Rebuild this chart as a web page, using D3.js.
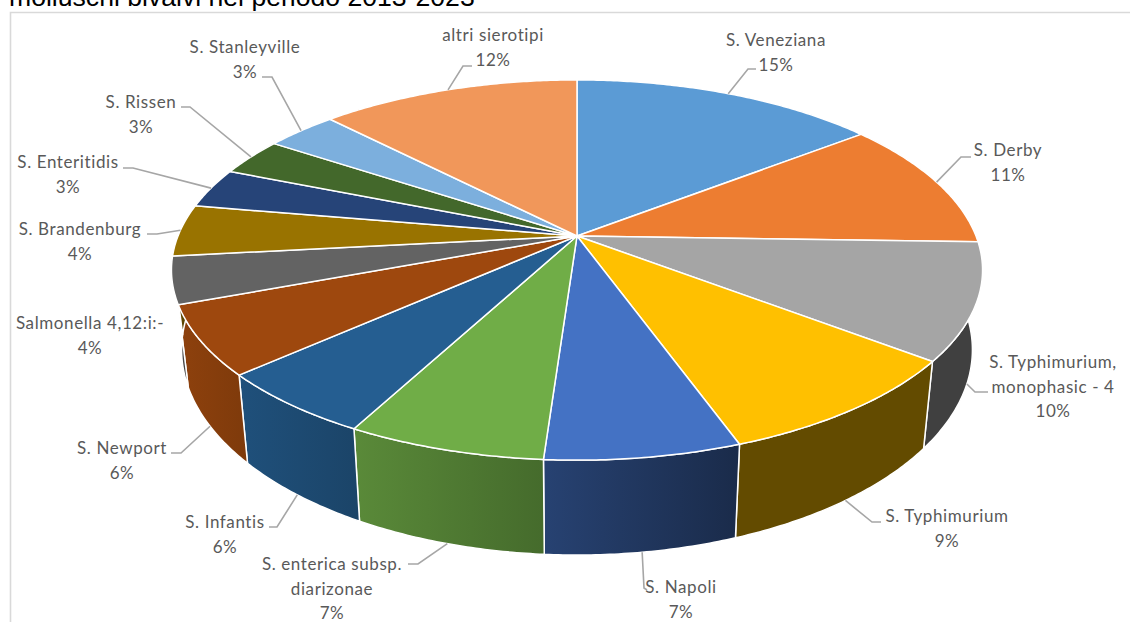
<!DOCTYPE html>
<html><head><meta charset="utf-8">
<script src="https://cdn.jsdelivr.net/npm/d3@7"></script>
<style>html,body{margin:0;padding:0;background:#fff;overflow:hidden}svg{display:block}</style>
</head><body><svg id="c" width="1130" height="622"></svg>
<script>
// ---- data ----
const categories = ["S. Veneziana","S. Derby","S. Typhimurium, monophasic - 4","S. Typhimurium","S. Napoli","S. enterica subsp. diarizonae","S. Infantis","S. Newport","Salmonella 4,12:i:-","S. Brandenburg","S. Enteritidis","S. Rissen","S. Stanleyville","altri sierotipi"];
const values = [14.5,11.0,9.9,9.1,6.6,6.7,5.6,5.9,4.0,4.4,3.4,3.2,3.4,12.3];
const colors = ["#5B9BD5","#ED7D31","#A5A5A5","#FFC000","#4472C4","#70AD47","#255E91","#9E480E","#636363","#997300","#264478","#43682B","#7CAFDD","#F1975A"];
// side-wall shading factors (left edge, right edge of each wall)
const wallLeft  = [.5,.5,.39,.39,.58,.8,.85,.9,.75,.6,.6,.6,.6,.6];
const wallRight = [.5,.5,.39,.39,.38,.62,.72,.8,.7,.6,.6,.6,.6,.6];
// label layout: wrapped lines, centre x, first line y, line gap
const labelLines = [["S. Veneziana"],["S. Derby"],["S. Typhimurium,","monophasic - 4"],["S. Typhimurium"],["S. Napoli"],["S. enterica subsp.","diarizonae"],["S. Infantis"],["S. Newport"],["Salmonella 4,12:i:-"],["S. Brandenburg"],["S. Enteritidis"],["S. Rissen"],["S. Stanleyville"],["altri sierotipi"]];
const labelX = [776,1008,1053,947,681,332,225,122,90,80,68,141,245,493];
const labelY = [40,150,362,516,587,564,522,448,323,229,162,102,47,35];
// leader elbow: [elbow x, elbow y, end x, end y] (null: no leader)
const leaders = [[748,69,756,69],[961,157,971,157],[975,392,988,392],[872,522,881,522],[644,588,647,590],[418,564,408,564],[277,527,269,527],[181,453,171,453],null,[157,234,147,234],[133,168,123,168],[190,107,181,107],[272,77,262,77],[463,66,472,66]];

// ---- projection of the tilted disc (perspective) ----
const cx = 577, cy = 236, A = 399, B = 184, k = 0.179;
const scaleBottomX = 0.975, scaleBottomY = 1.08, offsetBottomY = 77;
function project(theta, bottom){
  const u = Math.sin(theta), v = -Math.cos(theta);
  const X = A*u/(1-k*v), Y = B*v/(1-k*v);
  return bottom ? [cx+scaleBottomX*X, cy+offsetBottomY+scaleBottomY*Y] : [cx+X, cy+Y];
}
const svg = d3.select("#c");
const defs = svg.append("defs");
const lineGen = d3.line();
const pie = d3.pie().sort(null).value(d=>d)(values);
const arcPts = (a0,a1,bottom)=>{
  const n = Math.max(2,Math.ceil((a1-a0)/0.01));
  return d3.range(n+1).map(i=>project(a0+(a1-a0)*i/n,bottom));
};
// frame and title
svg.append("path").attr("d",lineGen([[1130,12.5],[10.5,12.5],[10.5,622]])).attr("fill","none").attr("stroke","#d9d9d9").attr("stroke-width",1.6);
svg.append("text").attr("x",9).attr("y",5.5).attr("font-family","'Liberation Sans',Arial,sans-serif").attr("font-size",26.6).attr("fill","#000").text("molluschi bivalvi nel periodo 2013-2023");

// walls
const shade=(c,f)=>{const r=d3.rgb(c);return d3.rgb(r.r*f,r.g*f,r.b*f).formatHex();};
pie.forEach((d,i)=>{
  const g = defs.append("linearGradient").attr("id","w"+i);
  g.append("stop").attr("offset","0%").attr("stop-color",shade(colors[i],wallLeft[i]));
  g.append("stop").attr("offset","100%").attr("stop-color",shade(colors[i],wallRight[i]));
});
svg.append("g").selectAll("path").data(pie).join("path")
  .attr("d",d=>lineGen(arcPts(d.startAngle,d.endAngle,false).concat(arcPts(d.startAngle,d.endAngle,true).reverse()))+"Z")
  .attr("fill",(d,i)=>`url(#w${i})`).attr("stroke","#fff").attr("stroke-width",1.5).attr("stroke-linejoin","round");
// top faces
svg.append("g").selectAll("path").data(pie).join("path")
  .attr("d",d=>lineGen([[cx,cy]].concat(arcPts(d.startAngle,d.endAngle,false)))+"Z")
  .attr("fill",(d,i)=>colors[i]).attr("stroke","#fff").attr("stroke-width",1.5).attr("stroke-linejoin","round");
// leaders
svg.append("g").selectAll("path").data(pie.filter((d,i)=>leaders[i])).join("path")
  .attr("d",d=>{
    const m=(d.startAngle+d.endAngle)/2, l=leaders[d.index];
    return lineGen([project(m,Math.cos(m)<0),[l[0],l[1]],[l[2],l[3]]]);
  }).attr("fill","none").attr("stroke","#a6a6a6").attr("stroke-width",1.6);
// labels
const lineGap = 24.6;
const lab = svg.append("g").attr("font-family","Lato,'Open Sans',sans-serif").attr("font-size",17).attr("letter-spacing",0.6).attr("fill","#595959").attr("text-anchor","middle");
categories.forEach((c,i)=>{
  const lines = labelLines[i].concat([Math.round(values[i])+"%"]);
  lines.forEach((t,j)=>lab.append("text").attr("x",labelX[i]).attr("y",labelY[i]+j*lineGap).attr("dy","0.35em").text(t));
});
</script></body></html>
